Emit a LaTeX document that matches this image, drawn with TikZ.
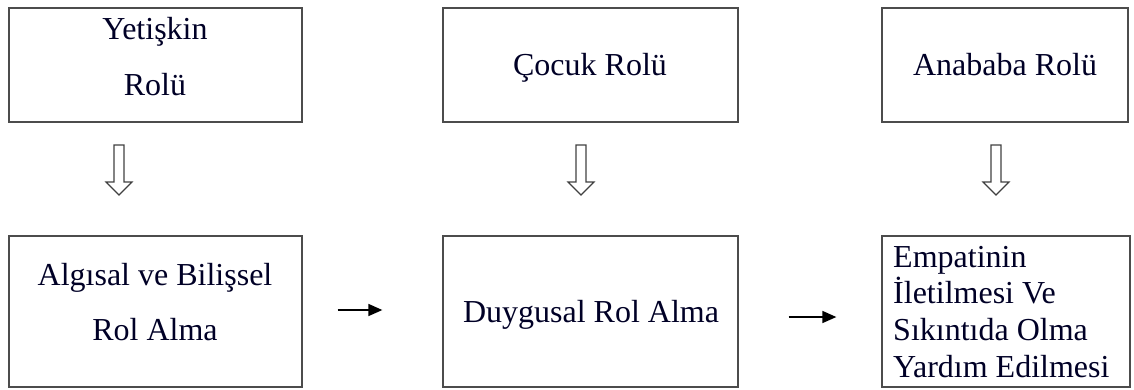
\documentclass[tikz,border=0pt]{standalone}
\usepackage{fontspec}
\setmainfont{Liberation Serif}
\usetikzlibrary{arrows.meta}
\begin{document}
\begin{tikzpicture}[x=1pt,y=-1pt,
  box/.style={draw=black!70,line width=1.3pt,rectangle,inner sep=0pt},
  txt/.style={anchor=base,inner sep=0pt,font=\fontsize{32}{36}\selectfont,text=black!85!blue},
  ltxt/.style={txt,anchor=base west},
  hollow/.style={draw=black!75,line width=1.1pt,line join=miter},
  flow/.style={line width=1.6pt,-{Triangle[length=14pt,width=12pt]}}]
\useasboundingbox (0,0) rectangle (1134,389);
% top boxes
\node[box,minimum width=293pt,minimum height=114pt] (b1) at (155.5,65) {};
\node[box,minimum width=295pt,minimum height=114pt] (b2) at (590.5,65) {};
\node[box,minimum width=246pt,minimum height=114pt] (b3) at (1005,65) {};
% bottom boxes
\node[box,minimum width=293pt,minimum height=151pt] (b4) at (155.5,311.5) {};
\node[box,minimum width=295pt,minimum height=151pt] (b5) at (590.5,311.5) {};
\node[box,minimum width=248pt,minimum height=151pt] (b6) at (1006,311.5) {};
% texts
\node[txt] (t1a) at (155,39) {Yetişkin};
\node[txt] (t1b) at (155,95) {Rolü};
\node[txt] (t2) at (590,75) {Çocuk Rolü};
\node[txt] (t3) at (1005,75) {Anababa Rolü};
\node[txt] (t4a) at (155,285) {Algısal ve Bilişsel};
\node[txt] (t4b) at (155,340) {Rol Alma};
\node[txt] (t5) at (591,322) {Duygusal Rol Alma};
\node[ltxt] (t6a) at (893,267) {Empatinin};
\node[ltxt] (t6b) at (893,303) {İletilmesi Ve};
\node[ltxt] (t6c) at (893,340) {Sıkıntıda Olma};
\node[ltxt] (t6d) at (893,377) {Yardım Edilmesi};
% hollow arrows
\coordinate (h1) at (119,170);
\coordinate (h2) at (581,170);
\coordinate (h3) at (996,170);
\foreach \h in {h1,h2,h3}{
  \draw[hollow] (\h) ++(-5,-25) -- ++(10,0) -- ++(0,37) -- ++(8,0) -- ++(-13,13) -- ++(-13,-13) -- ++(8,0) -- cycle;
}
% flow arrows
\draw[flow,shorten <=35pt,shorten >=60pt] ([yshift=1.5pt]b4.east) -- ([yshift=1.5pt]b5.west);
\draw[flow,shorten <=50pt,shorten >=45pt] ([yshift=-5.5pt]b5.east) -- ([yshift=-5.5pt]b6.west);
\end{tikzpicture}
\end{document}
